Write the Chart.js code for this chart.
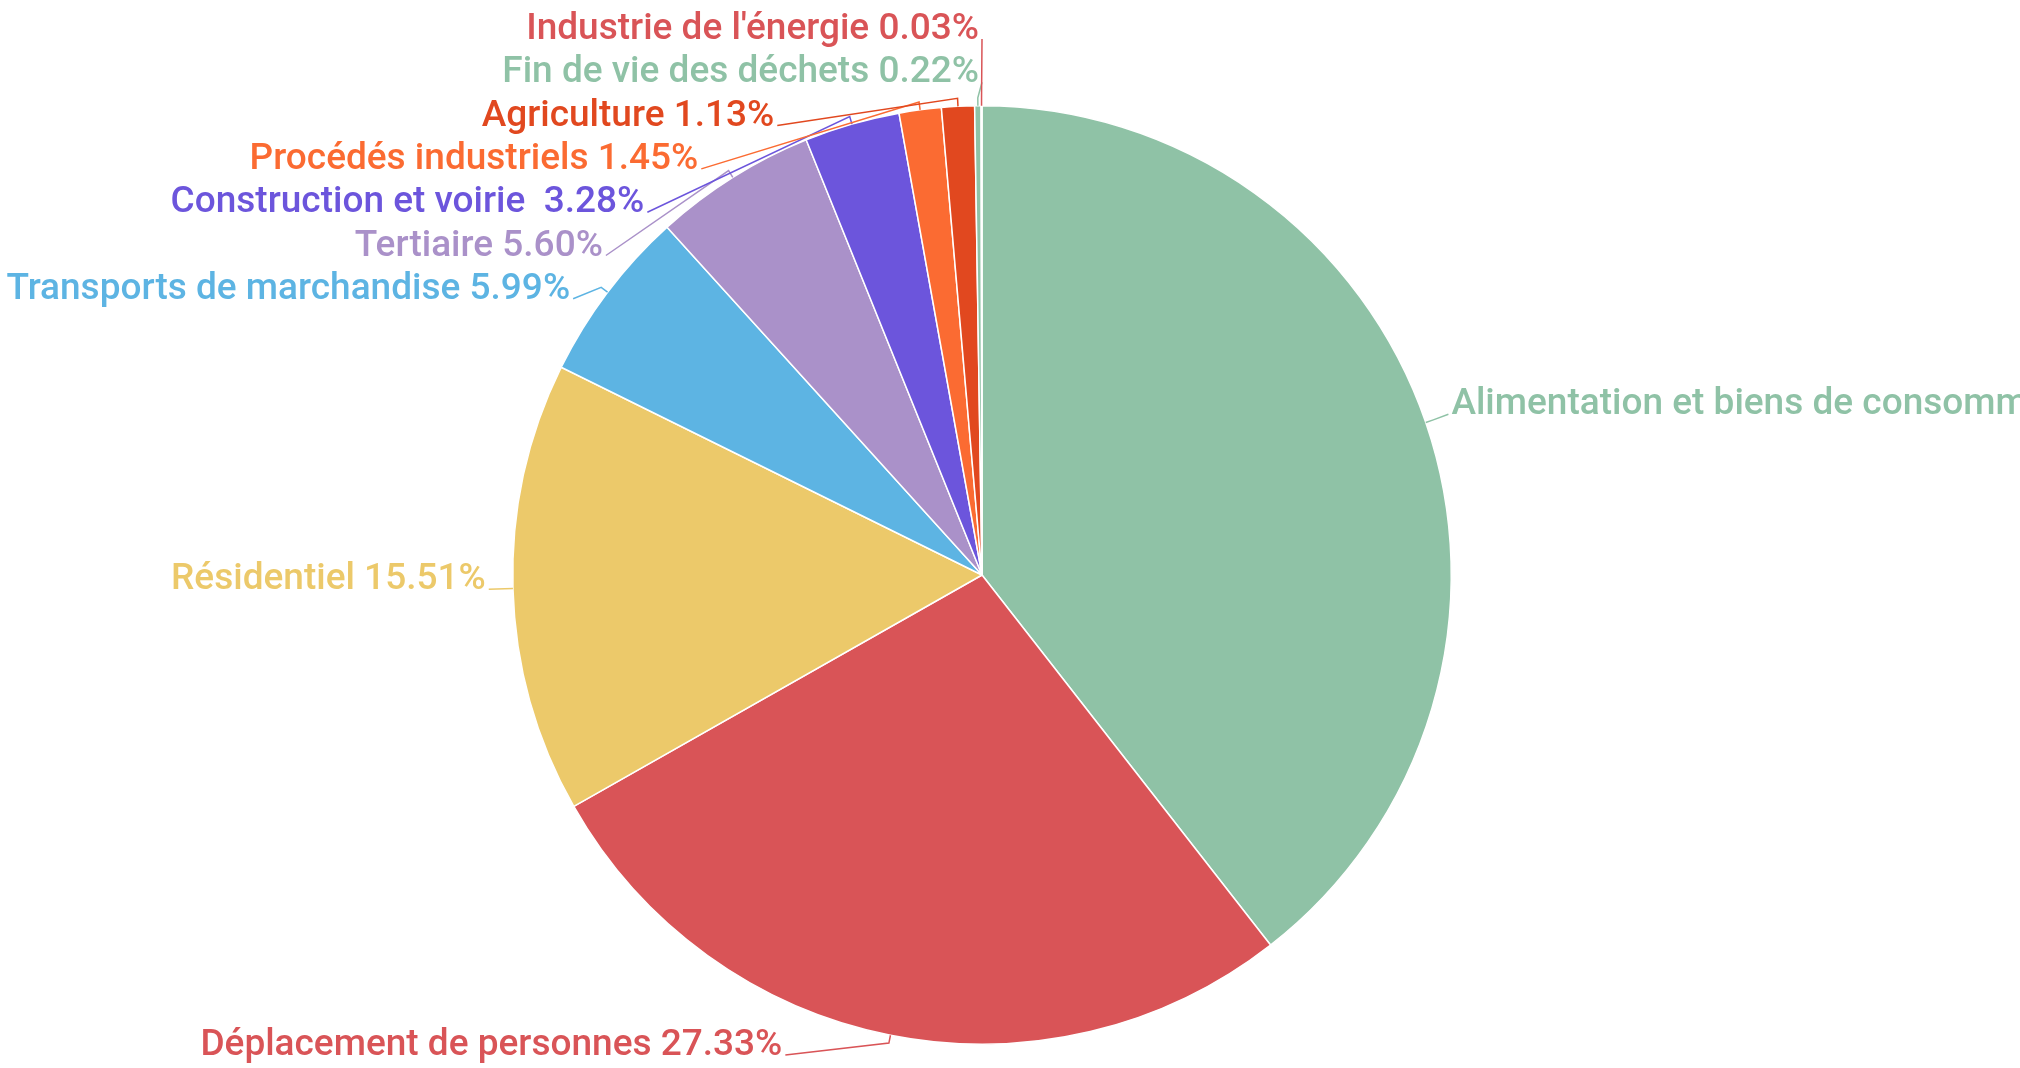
<!DOCTYPE html>
<html>
<head>
<meta charset="utf-8">
<script src="https://cdn.jsdelivr.net/npm/chart.js@4/dist/chart.umd.min.js"></script>
<style>
  html, body { margin: 0; padding: 0; background: #fff; }
  #wrap { width: 2020px; height: 1068px; position: relative; }
</style>
</head>
<body>
<div id="wrap"><canvas id="pieChart"></canvas></div>
<script>
// ===========================
// DATA
// ===========================
const categories = [
    "Alimentation et biens de consommation",
    "Déplacement de personnes",
    "Résidentiel",
    "Transports de marchandise",
    "Tertiaire",
    "Construction et voirie ",
    "Procédés industriels",
    "Agriculture",
    "Fin de vie des déchets",
    "Industrie de l'énergie"
];
const shares = [39.46, 27.33, 15.51, 5.99, 5.60, 3.28, 1.45, 1.13, 0.22, 0.03];
const sliceColors = [
    "#8fc2a6", "#d95457", "#ecc96a", "#5db4e3", "#aa91c9",
    "#6c55dc", "#fb6b32", "#e1481f", "#8fc2a6", "#d95457"
];

// ===========================
// OUTSIDE LABELS WITH LEADER LINES
// ===========================
const outerLabels = {
    id: "outerLabels",
    afterDatasetsDraw(chart) {
        const ctx = chart.ctx;
        const H = chart.height;
        const meta = chart.getDatasetMeta(0);
        const gap = 43.3;
        const R_OFF = 25;
        const capH = 27;

        const items = meta.data.map((arc, i) => {
            const p = arc.getProps(["x", "y", "startAngle", "endAngle", "outerRadius"], true);
            const mid = (p.startAngle + p.endAngle) / 2;
            const R = p.outerRadius + R_OFF;
            return {
                i, mid, cx: p.x, cy: p.y, r: p.outerRadius, R,
                right: Math.cos(mid) > 0.05,
                y: p.y + R * Math.sin(mid)
            };
        });

        // spread the left column so labels do not overlap (y = text baseline)
        const left = items.filter(d => !d.right).sort((a, b) => a.y - b.y);
        left.forEach(d => { d.y = Math.min(d.y, H - 13); });
        for (let k = left.length - 2; k >= 0; k--) {
            left[k].y = Math.min(left[k].y, left[k + 1].y - gap);
        }
        if (left.length) left[0].y = Math.max(left[0].y, 39);
        for (let k = 1; k < left.length; k++) {
            left[k].y = Math.max(left[k].y, left[k - 1].y + gap);
        }

        ctx.save();
        ctx.font = "500 37px Roboto";
        ctx.textBaseline = "alphabetic";
        items.forEach(d => {
            // nearest text corner sits on the label circle
            let dy = d.y - d.cy;
            if (dy > 0) dy = Math.max(dy - capH, 0);
            let dx;
            if (dy < 0 && -dy > d.r) dx = 3;          // label entirely above the pie
            else dx = Math.sqrt(Math.max(d.R * d.R - dy * dy, 0)) + 2;
            const lx = d.right ? d.cx + dx : d.cx - dx;
            const color = sliceColors[d.i];
            const ex = d.cx + d.r * Math.cos(d.mid);
            const ey = d.cy + d.r * Math.sin(d.mid);
            const bx = d.cx + (d.r + 8) * Math.cos(d.mid);
            const by = d.cy + (d.r + 8) * Math.sin(d.mid);

            ctx.strokeStyle = color;
            ctx.lineWidth = 1.5;
            ctx.beginPath();
            ctx.moveTo(ex, ey);
            ctx.lineTo(bx, by);
            ctx.lineTo(d.right ? lx - 3 : lx + 3, d.y);
            ctx.stroke();

            ctx.fillStyle = color;
            ctx.textAlign = d.right ? "left" : "right";
            const txt = categories[d.i] + " " + shares[d.i].toFixed(2) + "%";
            ctx.fillText(txt, lx, d.y);
        });
        ctx.restore();
    }
};

// ===========================
// PIE CHART
// ===========================
new Chart(document.getElementById("pieChart"), {
    type: "pie",
    data: {
        labels: categories,
        datasets: [{
            data: shares,
            backgroundColor: sliceColors,
            borderColor: "#ffffff",
            borderWidth: 1.5
        }]
    },
    options: {
        responsive: true,
        maintainAspectRatio: false,
        animation: false,
        layout: { padding: { top: 105, bottom: 23, left: 0, right: 56 } },
        plugins: {
            legend: { display: false },
            tooltip: { enabled: false }
        }
    },
    plugins: [outerLabels]
});
</script>
</body>
</html>
